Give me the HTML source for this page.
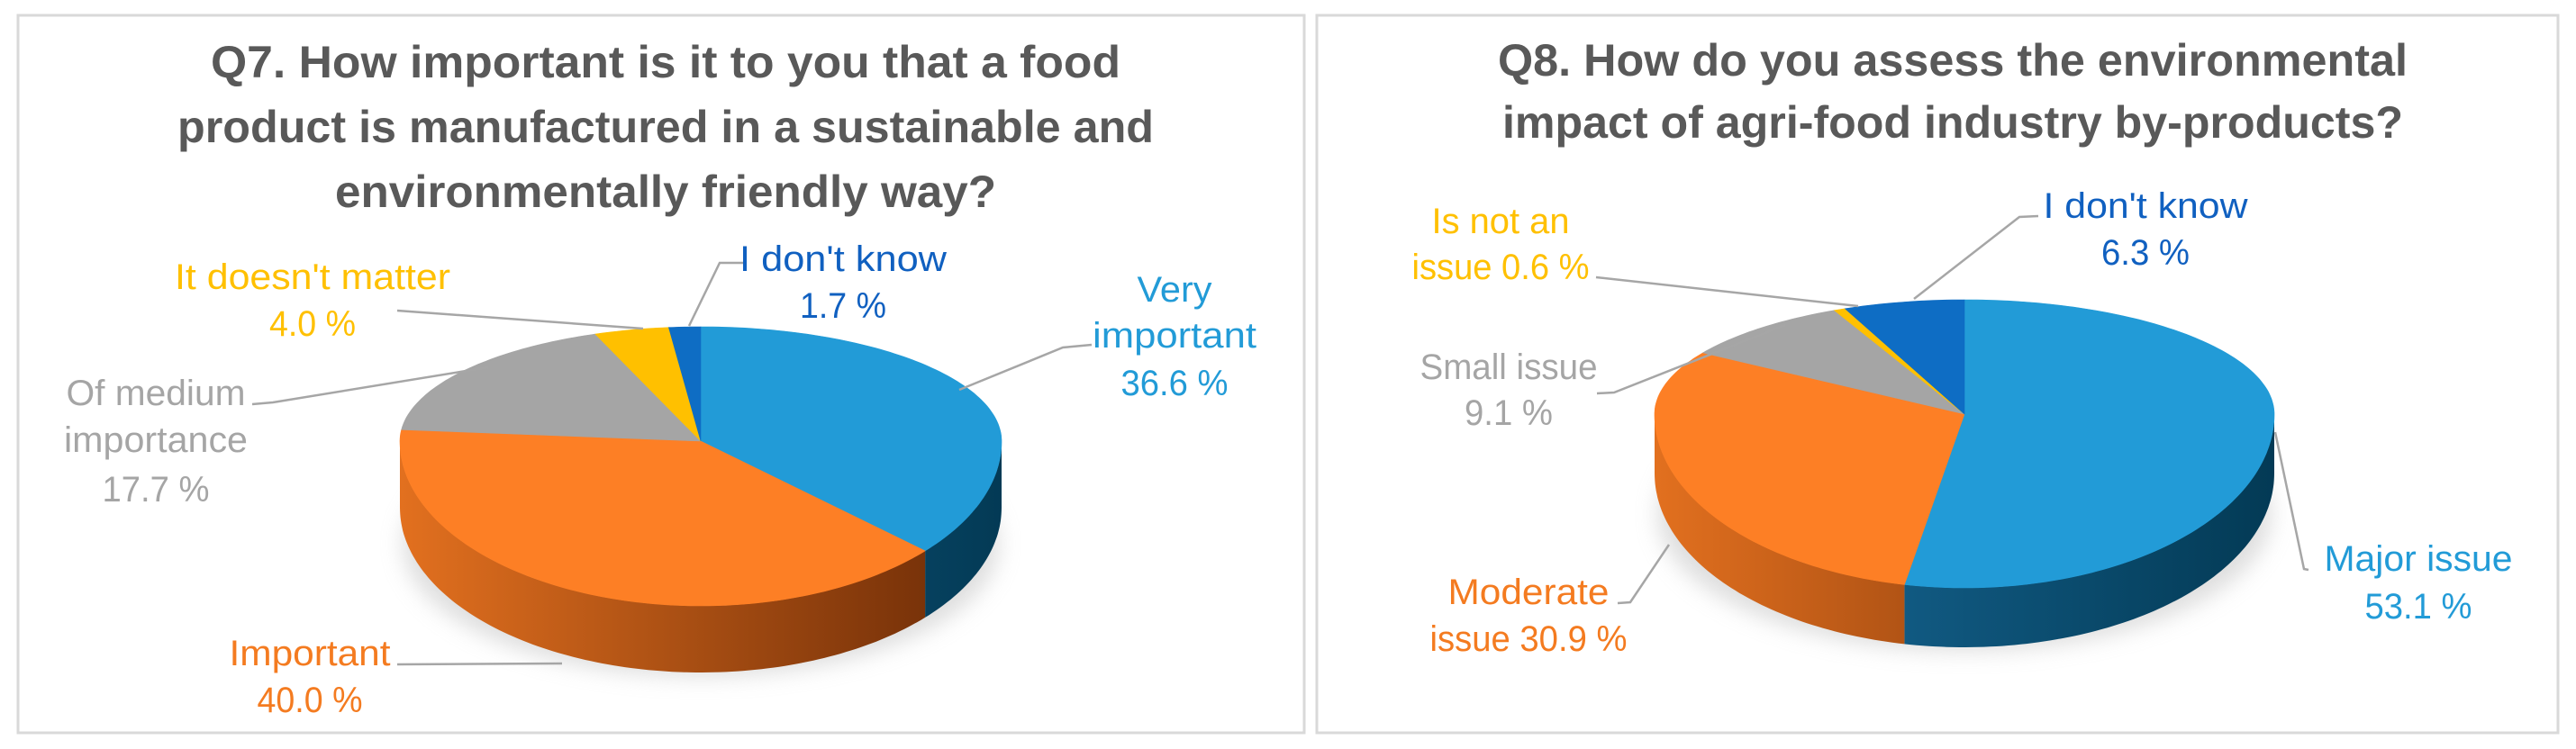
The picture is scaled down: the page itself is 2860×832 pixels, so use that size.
<!DOCTYPE html>
<html><head><meta charset="utf-8"><style>
html,body{margin:0;padding:0;background:#fff;}
svg{display:block;}
text{font-family:"Liberation Sans",sans-serif;}
</style></head><body>
<svg id="chart" width="2860" height="832" viewBox="0 0 2860 832" xmlns="http://www.w3.org/2000/svg">
<defs>
<filter id="shadow" x="-20%" y="-20%" width="140%" height="140%"><feGaussianBlur stdDeviation="12"/></filter>
</defs>
<rect x="20" y="17" width="1428" height="797" fill="#fff" stroke="#d9d9d9" stroke-width="3"/>
<rect x="1462" y="17" width="1378" height="797" fill="#fff" stroke="#d9d9d9" stroke-width="3"/>
<g font-weight="bold" fill="#595959" font-size="50" text-anchor="middle" dominant-baseline="central">
<text x="739" y="69" textLength="1010" lengthAdjust="spacingAndGlyphs">Q7. How important is it to you that a food</text>
<text x="739" y="141" textLength="1084" lengthAdjust="spacingAndGlyphs">product is manufactured in a sustainable and</text>
<text x="739" y="213" textLength="734" lengthAdjust="spacingAndGlyphs">environmentally friendly way?</text>
<text x="2168" y="67" textLength="1010" lengthAdjust="spacingAndGlyphs">Q8. How do you assess the environmental</text>
<text x="2168" y="136" textLength="1000" lengthAdjust="spacingAndGlyphs">impact of agri-food industry by-products?</text>
</g>
<g id="q7"></g>
<g id="q8"></g>
</svg>
<script>
const q7Categories = ["Very important", "Important", "Of medium importance", "It doesn't matter", "I don't know"];
const q7Values = [36.6, 40.0, 17.7, 4.0, 1.7];
const q8Categories = ["Major issue", "Moderate issue", "Small issue", "Is not an issue", "I don't know"];
const q8Values = [53.1, 30.9, 9.1, 0.6, 6.3];

const NS = "http://www.w3.org/2000/svg";
function mk(tag, attrs, parent){
  const e = document.createElementNS(NS, tag);
  for (const k in attrs) e.setAttribute(k, attrs[k]);
  parent.appendChild(e);
  return e;
}
function fmt(v){ return v.toFixed(1) + " %"; }

function drawPie(group, id, geom, values, colors, sideLight, sideDark, labels){
  const {cx, cy, rx, ryT, ryB, depth} = geom;
  const total = values.reduce((a,b)=>a+b,0);
  const pt = (th, dy) => {
    const c = Math.cos(th);
    return [cx + rx*Math.sin(th), cy - (c > 0 ? ryT : ryB)*c + (dy||0)];
  };
  const arcPts = (s, e, dy) => {
    const n = Math.max(2, Math.ceil((e - s) / 0.02));
    const out = [];
    for (let k = 0; k <= n; k++) { const p = pt(s + (e - s)*k/n, dy); out.push(p[0].toFixed(1) + ',' + p[1].toFixed(1)); }
    return out;
  };
  const sh = mk('ellipse', {cx: cx, cy: cy + (ryB - ryT)/2 + depth + 12, rx: rx*0.99, ry: (ryT+ryB)/2*0.95, fill:'#c8c8c8', opacity:0.6, filter:'url(#shadow)'}, group);
  
  
  const defs = document.querySelector('defs');
  let a = 0;
  const angles = values.map(v => { const s = a; a += v/total*2*Math.PI; return [s, a]; });
  angles.forEach(([s,e], i) => {
    const lo = Math.max(s, Math.PI/2), hi = Math.min(e, 3*Math.PI/2);
    if (hi <= lo) return;
    const gid = id + '-grad-' + i;
    const g = mk('linearGradient', {id: gid, gradientUnits:'userSpaceOnUse', x1: cx-rx, y1:0, x2: cx+rx, y2:0}, defs);
    mk('stop', {offset:'0', 'stop-color': sideLight[i]}, g);
    mk('stop', {offset:'1', 'stop-color': sideDark[i]}, g);
    const top = arcPts(lo, hi, 0);
    const bot = arcPts(lo, hi, depth).reverse();
    const side = mk('polygon', {points: top.concat(bot).join(' '), fill: 'url(#' + gid + ')'}, group);
    
    
  });
  angles.forEach(([s,e], i) => {
    const pts = [cx + ',' + cy].concat(arcPts(s, e, 0));
    const sl = mk('polygon', {points: pts.join(' '), fill: colors[i], stroke: colors[i], 'stroke-width': 0.6}, group);
    
    
  });
  labels.forEach((L, i) => {
    const ln = mk('polyline', {points: L.line, fill:'none', stroke:'#a6a6a6', 'stroke-width': 2.5}, group);
    
    
    L.lines.forEach((t, j) => {
      const txt = t.replace('{v}', fmt(values[L.idx]));
      const te = mk('text', {x: L.x, y: L.ys[j], 'text-anchor':'middle', 'dominant-baseline':'central', 'font-size': 40, fill: L.color, textLength: L.w[j], lengthAdjust:'spacingAndGlyphs'}, group);
      te.textContent = txt;
      
      
    });
  });
}

const colors = ['#229bd7', '#fd7f25', '#a5a5a5', '#ffc000', '#0e6dc4'];
const light = ['#1a6fa0', '#e2701f', '#8c8c8c', '#d9a300', '#0c5ba4'];
const dark  = ['#033a55', '#6a2a06', '#4a4a4a', '#7a5a00', '#06305c'];

drawPie(document.getElementById('q7'), 'q7', {cx:778, cy:490, rx:334, ryT:127, ryB:183, depth:74}, q7Values, colors, light, dark, [
  {idx:0, x:1304, ys:[322,373,426], lines:['Very','important','{v}'], w:[83,182,119], color:'#229bd7', line:'1212,383 1180,386 1065,433'},
  {idx:1, x:344, ys:[726,778], lines:['Important','{v}'], w:[179,117], color:'#f47b20', line:'441,738 624,737'},
  {idx:2, x:173, ys:[437,489,544], lines:['Of medium','importance','{v}'], w:[199,204,119], color:'#a5a5a5', line:'280,449 303,447 542,408'},
  {idx:3, x:347, ys:[308,360], lines:["It doesn't matter",'{v}'], w:[306,96], color:'#ffc000', line:'441,345 714,365'},
  {idx:4, x:936, ys:[288,340], lines:["I don't know",'{v}'], w:[230,96], color:'#1060c0', line:'826,292 799,292 765,362'}
]);
drawPie(document.getElementById('q8'), 'q8', {cx:2181, cy:460, rx:344, ryT:127, ryB:193, depth:66}, q8Values, colors, light, dark, [
  {idx:0, x:2685, ys:[621,674], lines:['Major issue','{v}'], w:[209,119], color:'#229bd7', line:'2563,633 2558,632 2526,480'},
  {idx:1, x:1697, ys:[658,710], lines:['Moderate','issue {v}'], w:[179,219], color:'#f47b20', line:'1796,670 1810,669 1853,605'},
  {idx:2, x:1675, ys:[408,459], lines:['Small issue','{v}'], w:[197,98], color:'#a5a5a5', line:'1773,437 1792,436 1982,361'},
  {idx:3, x:1666, ys:[246,297], lines:['Is not an','issue {v}'], w:[153,197], color:'#ffc000', line:'1772,308 2063,340'},
  {idx:4, x:2382, ys:[229,281], lines:["I don't know",'{v}'], w:[227,98], color:'#1060c0', line:'2263,240 2242,241 2125,332'}
]);
</script>
</body></html>
